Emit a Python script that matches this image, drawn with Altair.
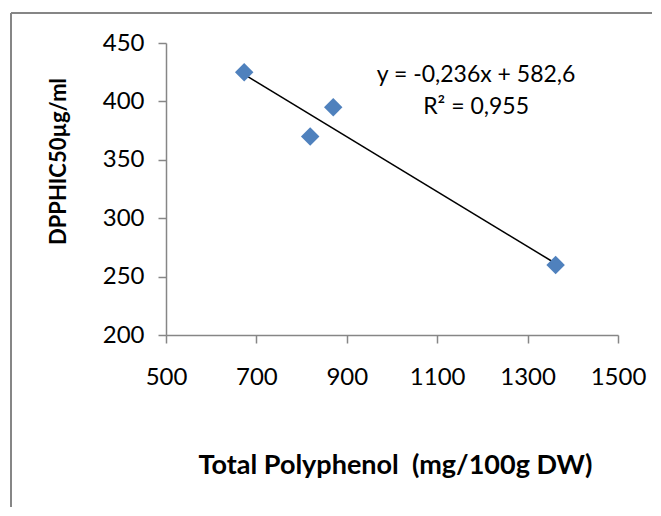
import altair as alt
import pandas as pd

# data
polyphenol = [673, 819, 870, 1362]
dpph_ic50 = [425, 370, 395, 260]

x_ticks = [500, 700, 900, 1100, 1300, 1500]
y_ticks = [200, 250, 300, 350, 400, 450]

eq_text = ["y = -0,236x + 582,6", "R² = 0,955"]
eq_x = [1186, 1186]
eq_y = [422.5, 395]

FONT = "Lato"
GRAY = "#868686"
BLUE = "#4F81BD"

df = pd.DataFrame({"x": polyphenol, "y": dpph_ic50})
ann = pd.DataFrame({"x": eq_x, "y": eq_y, "t": eq_text})
one = pd.DataFrame({"k": [0]})

xs = alt.Scale(domain=[500, 1500], nice=False, zero=False)
ys = alt.Scale(domain=[200, 450], nice=False, zero=False)

base = alt.Chart(df)

points = base.mark_point(shape="diamond", filled=True, size=340, color=BLUE, opacity=1).encode(
    x=alt.X("x:Q", scale=xs,
            axis=alt.Axis(values=x_ticks, format="d", labelFlush=False,
                          title="Total Polyphenol\u00a0 (mg/100g DW)",
                          grid=False, domainColor=GRAY, domainWidth=1.5, tickColor=GRAY,
                          tickSize=8, tickWidth=1.5, labelFont=FONT, labelFontSize=24,
                          labelColor="#000000", labelPadding=22,
                          titleFont=FONT, titleFontSize=27, titleFontWeight="bold",
                          titleColor="#000000", titleBaseline="alphabetic",
                          titleY=138, titleX=229)),
    y=alt.Y("y:Q", scale=ys,
            axis=alt.Axis(values=y_ticks, title="DPPHIC50µg/ml",
                          grid=False, domainColor=GRAY, domainWidth=1.5, tickColor=GRAY,
                          tickSize=8, tickWidth=1.5, labelFont=FONT, labelFontSize=24,
                          labelColor="#000000", labelPadding=14,
                          titleFont=FONT, titleFontSize=22, titleFontWeight="bold",
                          titleColor="#000000", titleAngle=270, titleBaseline="middle",
                          titleX=-108, titleY=118)),
)

trend = base.transform_regression("x", "y").mark_line(color="#000000", strokeWidth=1.5).encode(
    x=alt.X("x:Q", scale=xs), y=alt.Y("y:Q", scale=ys)
)

labels = alt.Chart(ann).mark_text(font=FONT, fontSize=23, color="#000000",
                                  align="center", baseline="middle").encode(
    x=alt.X("x:Q", scale=xs), y=alt.Y("y:Q", scale=ys), text="t:N"
)

frame_top = alt.Chart(one).mark_rule(color=GRAY, strokeWidth=2).encode(
    x=alt.value(-155), x2=alt.value(486), y=alt.value(-30)
)
frame_left = alt.Chart(one).mark_rule(color=GRAY, strokeWidth=2).encode(
    x=alt.value(-155), y=alt.value(-30), y2=alt.value(464)
)

chart = alt.layer(frame_top, frame_left, trend, points, labels).properties(
    width=452, height=292,
    padding={"left": 2, "top": 4, "right": 0, "bottom": 0},
).configure_view(stroke=None)

chart.save("out.html", embed_options={"renderer": "svg", "actions": False})
